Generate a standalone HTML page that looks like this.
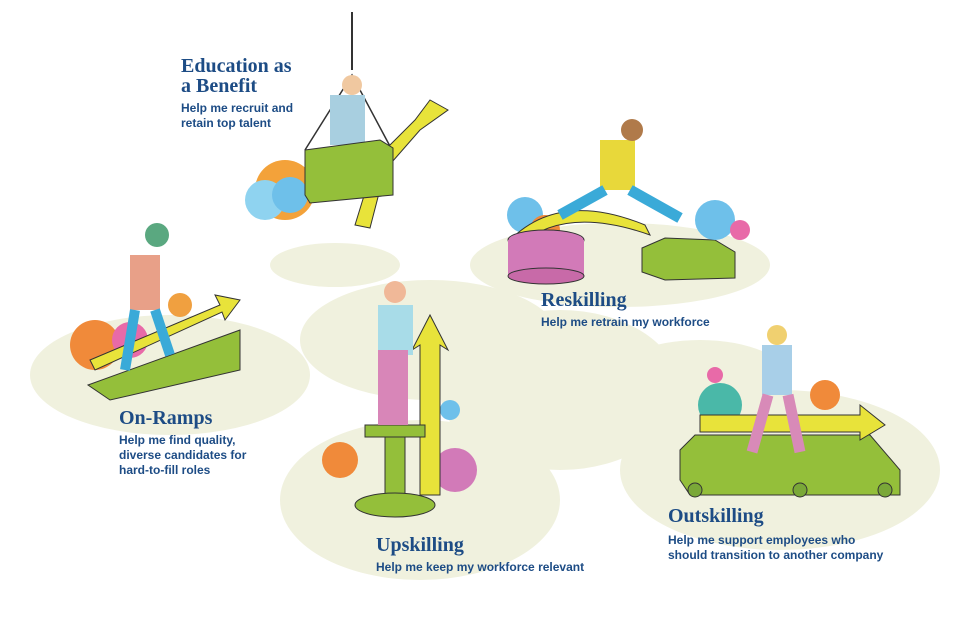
<!DOCTYPE html>
<html><head><meta charset="utf-8"><style>
html,body{margin:0;padding:0;background:#fff;}
body{width:958px;height:618px;position:relative;overflow:hidden;font-family:"Liberation Sans",sans-serif;color:#1d4c85;}
.t{position:absolute;font-family:"Liberation Serif",serif;font-weight:bold;font-size:20px;line-height:20px;}
.s{position:absolute;font-weight:bold;font-size:12px;line-height:15px;}
svg{position:absolute;left:0;top:0;}
</style></head><body>
<svg width="958" height="618" viewBox="0 0 958 618">
<g fill="#f0f1de">
<ellipse cx="335" cy="265" rx="65" ry="22"/>
<ellipse cx="620" cy="265" rx="150" ry="42"/>
<ellipse cx="170" cy="375" rx="140" ry="60"/>
<ellipse cx="430" cy="340" rx="130" ry="60"/>
<ellipse cx="420" cy="500" rx="140" ry="80"/>
<ellipse cx="560" cy="390" rx="120" ry="80"/>
<ellipse cx="780" cy="470" rx="160" ry="80"/>
<ellipse cx="700" cy="380" rx="90" ry="40"/>
</g>
<line x1="352" y1="12" x2="352" y2="70" stroke="#333" stroke-width="2"/>
<path d="M305 150 L352 75 L392 150" stroke="#333" fill="none" stroke-width="1.5"/>
<circle cx="285" cy="190" r="30" fill="#f3a23a"/><circle cx="265" cy="200" r="20" fill="#8fd3f0"/><circle cx="290" cy="195" r="18" fill="#6ec0ea"/>
<path d="M355 225 L375 160 L415 120 L430 100 L448 110 L420 130 L385 170 L370 228 Z" fill="#e8e33a" stroke="#333"/>
<rect x="330" y="95" width="35" height="50" fill="#a8cfe0"/>
<circle cx="352" cy="85" r="10" fill="#f0c8a0"/>
<polygon points="305,150 380,140 393,148 393,195 310,203 305,195" fill="#94bf3a" stroke="#333"/>
<circle cx="95" cy="345" r="25" fill="#f08a3a"/><circle cx="130" cy="340" r="18" fill="#e86aa8"/><circle cx="180" cy="305" r="12" fill="#f0a040"/>
<polygon points="88,385 240,330 240,370 110,400" fill="#94bf3a" stroke="#333"/>
<polygon points="90,360 220,305 215,295 240,300 225,320 222,312 95,370" fill="#e8e33a" stroke="#333"/>
<rect x="130" y="255" width="30" height="55" fill="#e8a088"/><circle cx="157" cy="235" r="12" fill="#5aa880"/>
<path d="M135 310 L125 370 M155 310 L170 355" stroke="#3aaad8" stroke-width="10"/>
<circle cx="525" cy="215" r="18" fill="#6ec0ea"/><circle cx="545" cy="230" r="15" fill="#f08a3a"/>
<path d="M510 240 Q560 190 645 225 L650 235 Q565 205 520 245 Z" fill="#e8e33a" stroke="#333"/>
<ellipse cx="546" cy="240" rx="38" ry="10" fill="#d27ab8" stroke="#333"/>
<rect x="508" y="240" width="76" height="36" fill="#d27ab8"/>
<ellipse cx="546" cy="276" rx="38" ry="8" fill="#c86aa8" stroke="#333"/>
<polygon points="642,248 665,238 715,240 735,252 735,278 665,280 642,272" fill="#94bf3a" stroke="#333"/>
<circle cx="715" cy="220" r="20" fill="#6ec0ea"/><circle cx="740" cy="230" r="10" fill="#e86aa8"/>
<rect x="600" y="140" width="35" height="50" fill="#e8d83a"/><circle cx="632" cy="130" r="11" fill="#b07a4a"/>
<path d="M605 190 L560 215 M630 190 L680 218" stroke="#3aaad8" stroke-width="11"/>
<circle cx="340" cy="460" r="18" fill="#f08a3a"/><circle cx="455" cy="470" r="22" fill="#d27ab8"/><circle cx="450" cy="410" r="10" fill="#6ec0ea"/>
<polygon points="420,495 420,345 412,350 430,315 448,350 440,345 440,495" fill="#e8e33a" stroke="#333"/>
<rect x="365" y="425" width="60" height="12" fill="#94bf3a" stroke="#333"/>
<rect x="385" y="437" width="20" height="60" fill="#94bf3a" stroke="#333"/>
<ellipse cx="395" cy="505" rx="40" ry="12" fill="#94bf3a" stroke="#333"/>
<rect x="378" y="305" width="35" height="50" fill="#a8dce8"/><circle cx="395" cy="292" r="11" fill="#f0b898"/>
<rect x="378" y="350" width="30" height="75" fill="#d886b8"/>
<circle cx="720" cy="405" r="22" fill="#4ab8a8"/><circle cx="825" cy="395" r="15" fill="#f08a3a"/><circle cx="715" cy="375" r="8" fill="#e86aa8"/>
<polygon points="680,450 695,435 870,435 900,470 900,495 690,495 680,480" fill="#94bf3a" stroke="#333"/>
<circle cx="695" cy="490" r="7" fill="#7aa838" stroke="#333"/><circle cx="800" cy="490" r="7" fill="#7aa838" stroke="#333"/><circle cx="885" cy="490" r="7" fill="#7aa838" stroke="#333"/>
<polygon points="700,415 860,415 860,405 885,425 860,440 860,432 700,432" fill="#e8e33a" stroke="#333"/>
<rect x="762" y="345" width="30" height="50" fill="#a8cfe8"/><circle cx="777" cy="335" r="10" fill="#f0d070"/>
<path d="M768 395 L752 452 M788 395 L800 452" stroke="#d88ab8" stroke-width="11"/>
</svg>
<div class="t" style="left:181px;top:56px">Education as<br>a Benefit</div>
<div class="s" style="left:181px;top:101px">Help me recruit and<br>retain top talent</div>
<div class="t" style="left:119px;top:408px">On-Ramps</div>
<div class="s" style="left:119px;top:433px">Help me find quality,<br>diverse candidates for<br>hard-to-fill roles</div>
<div class="t" style="left:541px;top:290px">Reskilling</div>
<div class="s" style="left:541px;top:315px">Help me retrain my workforce</div>
<div class="t" style="left:376px;top:535px">Upskilling</div>
<div class="s" style="left:376px;top:560px">Help me keep my workforce relevant</div>
<div class="t" style="left:668px;top:506px">Outskilling</div>
<div class="s" style="left:668px;top:533px">Help me support employees who<br>should transition to another company</div>
</body></html>
